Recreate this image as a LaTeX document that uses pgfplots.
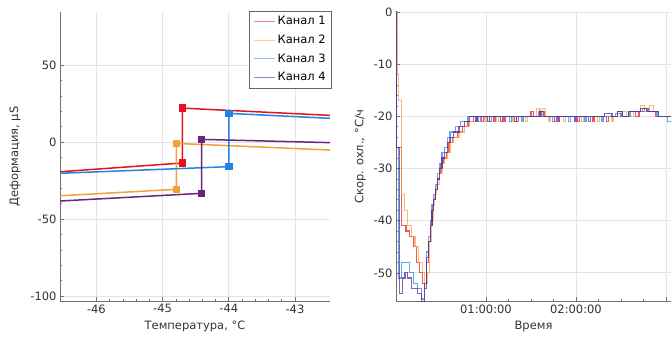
\documentclass[border=0pt]{standalone}
\usepackage{pgfplots}
\pgfplotsset{compat=1.18}
\usepackage{fontspec}
\setmainfont{DejaVu Sans}
\definecolor{c1}{HTML}{E3121E}
\definecolor{c2}{HTML}{F2A03A}
\definecolor{c3}{HTML}{2283E2}
\definecolor{c4}{HTML}{6A2480}
\definecolor{gridc}{HTML}{E4E4E4}
\definecolor{axc}{HTML}{707070}
\pgfplotsset{
  mystyle/.style={
    scale only axis,
    axis x line=bottom, axis y line=left,
    axis line style={-, axc, line width=0.9pt},
    grid=major, major grid style={gridc, line width=0.7pt},
    tick style={axc, line width=0.6pt},
    tick align=inside,
    major tick length=4pt, minor tick length=2pt,
    /pgf/number format/assume math mode=true,
    ticklabel style={font=\fontsize{11.5}{13}\selectfont, text=black!80},
    label style={font=\fontsize{11.5}{13}\selectfont, text=black!80},
  }
}
\begin{document}
\begin{tikzpicture}
\useasboundingbox (0,0) rectangle (671pt,338pt);
% ---------------- left chart
\begin{axis}[mystyle,
  at={(60pt,37pt)}, anchor=south west,
  width=270pt, height=289pt,
  xmin=-46.55, xmax=-42.47, ymin=-103.2, ymax=84.4,
  xtick={-46,-45,-44,-43}, ytick={-100,-50,0,50},
  minor x tick num=4, minor y tick num=4,
  xlabel={Температура, °C}, ylabel={Деформация, μS},
  xlabel style={yshift=-1pt}, ylabel style={yshift=3pt},
  legend style={at={(1.007,1.005)}, anchor=north east, draw=black!60,
    font=\fontsize{11.5}{13}\selectfont, row sep=4.8pt, inner xsep=4pt, inner ysep=3.5pt,
    legend cell align=left},
  legend image code/.code={\draw[#1] (0pt,0pt) -- (21pt,0pt);},
]
\addplot[c1, line width=1.5pt, mark=square*, mark size=3pt, mark indices={2,3}, forget plot]
  coordinates {(-46.55,-19.3) (-44.70,-13.6) (-44.70,22.0) (-42.47,17.3)};
\addplot[c2, line width=1.5pt, mark=square*, mark size=3pt, mark indices={2,3}, forget plot]
  coordinates {(-46.55,-34.9) (-44.79,-30.7) (-44.79,-0.9) (-42.47,-5.2)};
\addplot[c3, line width=1.5pt, mark=square*, mark size=3pt, mark indices={2,3}, forget plot]
  coordinates {(-46.55,-20.3) (-44.00,-16.0) (-44.00,18.6) (-42.47,15.4)};
\addplot[c4, line width=1.5pt, mark=square*, mark size=3pt, mark indices={2,3}, forget plot]
  coordinates {(-46.55,-38.3) (-44.41,-33.3) (-44.41,1.7) (-42.47,-0.4)};
\addlegendimage{c1!50, line width=0.9pt}\addlegendentry{Канал 1}
\addlegendimage{c2!50, line width=0.9pt}\addlegendentry{Канал 2}
\addlegendimage{c3!50, line width=0.9pt}\addlegendentry{Канал 3}
\addlegendimage{c4!60, line width=0.9pt}\addlegendentry{Канал 4}
\end{axis}
% ---------------- right chart
\begin{axis}[mystyle,
  at={(396pt,37pt)}, anchor=south west,
  width=275pt, height=289pt,
  xmin=0, xmax=3.056, ymin=-55.4, ymax=0,
  xtick={1,2,3}, xticklabels={01:00:00,02:00:00,},
  ytick={0,-10,-20,-30,-40,-50},
  minor x tick num=3, minor y tick num=4,
  xlabel={Время}, ylabel={Скор. охл., °C/ч},
  xlabel style={yshift=-1pt}, ylabel style={yshift=1pt},
  every axis plot/.append style={const plot, line width=1.2pt, opacity=0.7},
]
% Канал 1
\addplot[c1] coordinates {
(0,0) (0.005,-26) (0.06,-41) (0.11,-42) (0.15,-43) (0.19,-45) (0.23,-48) (0.26,-50) (0.29,-52) (0.32,-53)
(0.34,-48) (0.36,-44) (0.38,-41) (0.40,-38) (0.42,-36) (0.44,-34) (0.46,-32) (0.48,-31) (0.50,-29) (0.53,-28)
(0.56,-27) (0.59,-25) (0.63,-24) (0.68,-23) (0.74,-22) (0.80,-21) (0.86,-20) (0.95,-21) (0.97,-20) (1.08,-21)
(1.10,-20) (1.20,-21) (1.22,-20) (1.34,-21) (1.36,-20) (1.50,-19) (1.53,-20) (1.62,-19) (1.65,-20) (1.76,-21)
(1.78,-20) (1.90,-20) (2.02,-21) (2.04,-20) (2.18,-21) (2.20,-20) (2.34,-21) (2.36,-20) (2.46,-19) (2.52,-20)
(2.58,-19) (2.66,-20) (2.70,-19) (2.76,-18.5) (2.80,-19) (2.88,-20) (2.96,-20) (3.06,-20)};
% Канал 2
\addplot[c2] coordinates {
(0,0) (0.01,-12) (0.03,-17) (0.06,-35) (0.09,-38) (0.13,-41) (0.17,-43) (0.21,-45) (0.25,-48) (0.29,-50)
(0.32,-52) (0.35,-50) (0.37,-44) (0.39,-40) (0.41,-37) (0.43,-35) (0.45,-33) (0.48,-31) (0.51,-29) (0.54,-28)
(0.57,-27) (0.60,-25) (0.64,-24) (0.70,-23) (0.76,-22) (0.82,-21) (0.90,-20) (0.98,-21) (1.00,-20) (1.12,-21)
(1.14,-20) (1.28,-21) (1.30,-20) (1.44,-21) (1.46,-20) (1.56,-18.5) (1.60,-20) (1.63,-18.5) (1.66,-20) (1.70,-21)
(1.72,-20) (1.86,-21) (1.88,-20) (2.06,-21) (2.08,-20) (2.24,-21) (2.26,-20) (2.40,-21) (2.42,-20) (2.50,-19)
(2.56,-20) (2.64,-19) (2.72,-18) (2.76,-19) (2.82,-18) (2.86,-19) (2.92,-20) (3.00,-20) (3.06,-20)};
% Канал 3
\addplot[c3] coordinates {
(0,0) (0.005,-26) (0.03,-51) (0.06,-48) (0.15,-50) (0.19,-52) (0.24,-53) (0.28,-55) (0.32,-53) (0.34,-46)
(0.36,-43) (0.38,-40) (0.40,-37) (0.42,-35) (0.44,-33) (0.46,-31) (0.48,-29) (0.51,-27) (0.54,-26) (0.57,-24)
(0.60,-23) (0.66,-22) (0.72,-21) (0.80,-20) (0.92,-21) (0.94,-20) (1.04,-21) (1.06,-20) (1.18,-20) (1.26,-21)
(1.28,-20) (1.40,-21) (1.42,-20) (1.58,-19) (1.61,-20) (1.74,-21) (1.76,-20) (1.92,-21) (1.94,-20) (2.10,-21)
(2.12,-20) (2.28,-21) (2.30,-20) (2.44,-19.5) (2.50,-20) (2.60,-19) (2.68,-19) (2.74,-18.5) (2.80,-19) (2.90,-20)
(2.98,-20) (3.02,-21) (3.06,-21)};
% Канал 4
\addplot[c4!80!blue] coordinates {
(0,0) (0.005,-26) (0.04,-54) (0.07,-51) (0.10,-50) (0.13,-51) (0.17,-53) (0.24,-54) (0.28,-55.5) (0.32,-52)
(0.34,-47) (0.36,-44) (0.38,-41) (0.40,-38) (0.42,-36) (0.44,-34) (0.46,-32) (0.48,-30) (0.51,-28) (0.54,-27)
(0.57,-25) (0.60,-24) (0.64,-23) (0.70,-22) (0.76,-21) (0.82,-20) (0.88,-21) (0.90,-20) (1.02,-21) (1.04,-20)
(1.16,-21) (1.18,-20) (1.32,-21) (1.34,-20) (1.48,-20) (1.60,-19) (1.64,-20) (1.80,-21) (1.82,-20) (1.98,-21)
(2.00,-20) (2.14,-21) (2.16,-20) (2.32,-19.5) (2.40,-20) (2.46,-19) (2.52,-20) (2.58,-19) (2.66,-19) (2.72,-18.5)
(2.78,-19) (2.86,-19) (2.92,-20) (3.00,-20) (3.06,-20)};
\end{axis}
\end{tikzpicture}
\end{document}
